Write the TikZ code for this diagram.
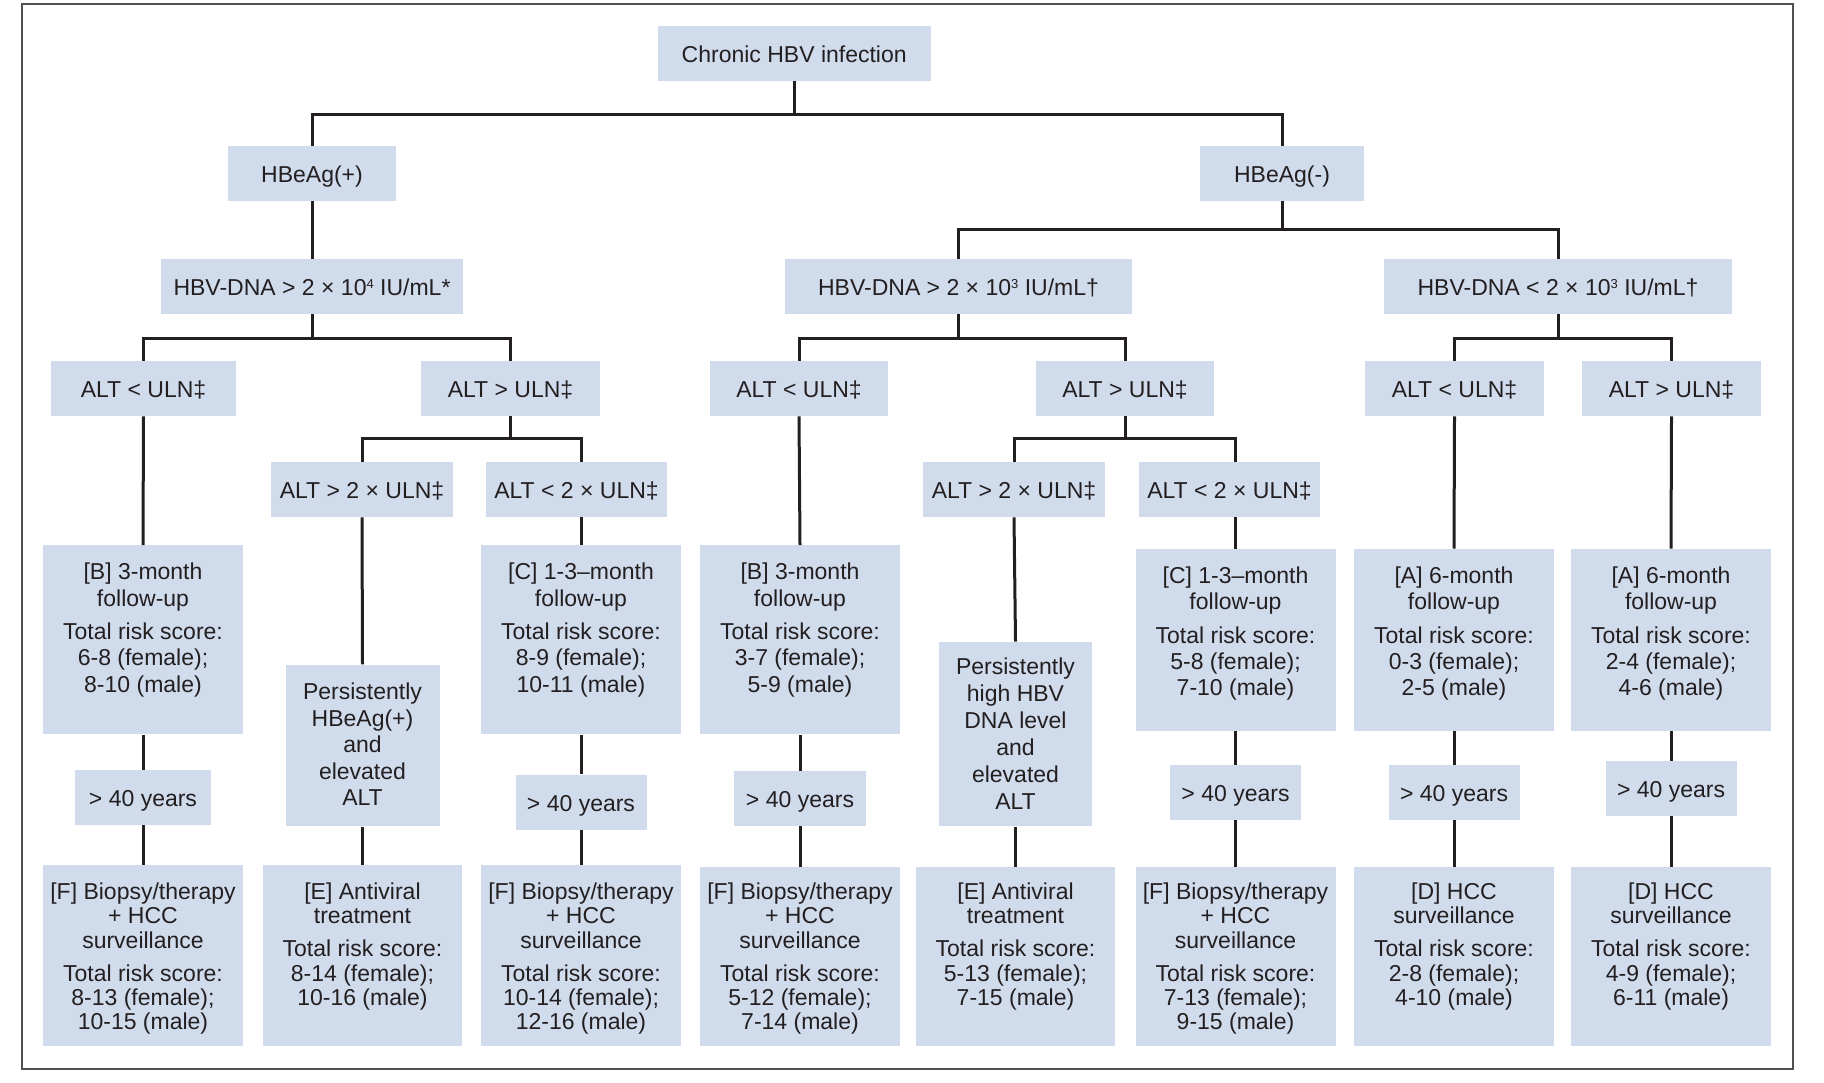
\documentclass[tikz,border=0pt]{standalone}
\usepackage{fontspec}
\setmainfont{Liberation Sans}
\usetikzlibrary{positioning}

\definecolor{boxblue}{RGB}{208,219,236}
\definecolor{inkgray}{RGB}{35,31,32}
\definecolor{framegray}{RGB}{80,80,80}

% width, height, first baseline, text
\newcommand{\boxtext}[4]{\begin{minipage}[t][#2][t]{#1}\centering\rule{0pt}{#3}#4\end{minipage}}
% small raised exponent
\newcommand{\expo}[1]{\raisebox{3.6pt}{\fontsize{6.5}{7}\selectfont #1}}

\tikzset{
  box/.style={fill=boxblue, inner sep=0pt, text=inkgray},
  single/.style={box, minimum height=27.5pt, text height=9pt, text depth=0pt, font=\fontsize{11.5}{13.15}\selectfont},
  upper/.style={box, anchor=north, font=\fontsize{11.5}{13.15}\selectfont},
  lower/.style={box, anchor=north, font=\fontsize{11.5}{12.1}\selectfont},
  persist/.style={box, anchor=north, font=\fontsize{11.5}{#1}\selectfont},
  link/.style={draw=inkgray, line width=1.5pt},
  frame/.style={draw=framegray, line width=1pt},
}

\begin{document}
\begin{tikzpicture}[x=0.5pt,y=-0.5pt]
\useasboundingbox (0,0) rectangle (1824,1082);
\draw[frame] (21.5,4) rectangle (1793,1069);

%%%%%%%%%%%%%%%%%Top%%%%%%%%%%%%%%
%Chronic
\node[single,minimum width=136.5pt,
] (chronic) at (794.2,53.4){Chronic HBV infection};

%HBeAg positive
\node[single,minimum width=84pt,
] (hbeagpos) at (312,173.5){HBeAg(+)};

%HBeAg negative
\node[single,minimum width=82pt,
] (hbeagneg) at (1282,173.5){HBeAg(-)};

%%%%%%%%%%%%%%%%%DNA level%%%%%%%%%%%%%%
\node[single,minimum width=151pt,
] (dnapos) at (312,286.5){HBV-DNA > 2 × 10\expo{4} IU/mL*};

\node[single,minimum width=173.5pt,
] (dnahigh) at (958.5,286.5){HBV-DNA > 2 × 10\expo{3} IU/mL†};

\node[single,minimum width=174pt,
] (dnalow) at (1558,286.5){HBV-DNA < 2 × 10\expo{3} IU/mL†};

%%%%%%%%%%%%%%%%%ALT vs ULN%%%%%%%%%%%%%%
\node[single,minimum width=92.5pt,
] (altlta) at (143.5,388.5){ALT < ULN‡};

\node[single,minimum width=89.5pt,
] (altgta) at (510.5,388.5){ALT > ULN‡};

\node[single,minimum width=89pt,
] (altltb) at (799,388.5){ALT < ULN‡};

\node[single,minimum width=89.25pt,
] (altgtb) at (1125,388.5){ALT > ULN‡};

\node[single,minimum width=89.5pt,
] (altltc) at (1454.5,388.5){ALT < ULN‡};

\node[single,minimum width=89.5pt,
] (altgtc) at (1671.5,388.5){ALT > ULN‡};

%%%%%%%%%%%%%%%%%ALT vs 2 ULN%%%%%%%%%%%%%%
\node[single,minimum width=90.75pt,
] (dblgta) at (362,489.5){ALT > 2 × ULN‡};

\node[single,minimum width=90.5pt,
] (dbllta) at (576.5,489.5){ALT < 2 × ULN‡};

\node[single,minimum width=90.75pt,
] (dblgtb) at (1014,489.5){ALT > 2 × ULN‡};

\node[single,minimum width=90.5pt,
] (dblltb) at (1229.5,489.5){ALT < 2 × ULN‡};

%%%%%%%%%%%%%%%%%Follow-up%%%%%%%%%%%%%%
\node[upper] (fub1) at (143,545){\boxtext{100pt}{94.5pt}{17.15pt}{[B] 3-month\\follow-up\\[3.65pt]Total risk score:\\6-8 (female);\\8-10 (male)}};

\node[persist=13.25pt] (perseag) at (362.5,664.3){\boxtext{77pt}{80.75pt}{17.5pt}{Persistently\\HBeAg(+)\\and\\elevated\\ALT}};

\node[upper] (fuc1) at (581,545){\boxtext{100pt}{94.5pt}{17.15pt}{[C] 1-3–month\\follow-up\\[3.65pt]Total risk score:\\8-9 (female);\\10-11 (male)}};

\node[upper] (fub2) at (800,545){\boxtext{100pt}{94.5pt}{17.15pt}{[B] 3-month\\follow-up\\[3.65pt]Total risk score:\\3-7 (female);\\5-9 (male)}};

\node[persist=13.55pt] (persdna) at (1015.5,641.5){\boxtext{76.5pt}{92.25pt}{16.15pt}{Persistently\\high HBV\\DNA level\\and\\elevated\\ALT}};

\node[upper] (fuc2) at (1235.5,548.5){\boxtext{100pt}{91pt}{17.15pt}{[C] 1-3–month\\follow-up\\[3.65pt]Total risk score:\\5-8 (female);\\7-10 (male)}};

\node[upper] (fua1) at (1454,548.5){\boxtext{100pt}{91pt}{17.15pt}{[A] 6-month\\follow-up\\[3.65pt]Total risk score:\\0-3 (female);\\2-5 (male)}};

\node[upper] (fua2) at (1671,548.5){\boxtext{100pt}{91pt}{17.15pt}{[A] 6-month\\follow-up\\[3.65pt]Total risk score:\\2-4 (female);\\4-6 (male)}};

%%%%%%%%%%%%%%%%%Age%%%%%%%%%%%%%%
\node[single,minimum width=68pt,
] (agea) at (143,797.5){> 40 years};

\node[single,minimum width=65.5pt,
] (ageb) at (581,802){> 40 years};

\node[single,minimum width=65.75pt,
] (agec) at (800,798.5){> 40 years};

\node[single,minimum width=65.75pt,
] (aged) at (1235.5,792.5){> 40 years};

\node[single,minimum width=65.5pt,
] (agee) at (1454,792.5){> 40 years};

\node[single,minimum width=65.5pt,
] (agef) at (1671,788.5){> 40 years};

%%%%%%%%%%%%%%%%%Management%%%%%%%%%%%%%%
\node[lower] (biopa) at (143,865){\boxtext{100pt}{90.5pt}{17.15pt}{[F] Biopsy/therapy\\+ HCC\\surveillance\\[4.4pt]Total risk score:\\8-13 (female);\\10-15 (male)}};

\node[lower] (antia) at (362.5,865){\boxtext{99.5pt}{90.5pt}{17.15pt}{[E] Antiviral\\treatment\\[4.4pt]Total risk score:\\8-14 (female);\\10-16 (male)}};

\node[lower] (biopb) at (581,865){\boxtext{100pt}{90.5pt}{17.15pt}{[F] Biopsy/therapy\\+ HCC\\surveillance\\[4.4pt]Total risk score:\\10-14 (female);\\12-16 (male)}};

\node[lower] (biopc) at (800,866.5){\boxtext{100pt}{89.75pt}{16.4pt}{[F] Biopsy/therapy\\+ HCC\\surveillance\\[4.4pt]Total risk score:\\5-12 (female);\\7-14 (male)}};

\node[lower] (antib) at (1015.5,866.5){\boxtext{99.5pt}{89.75pt}{16.4pt}{[E] Antiviral\\treatment\\[4.4pt]Total risk score:\\5-13 (female);\\7-15 (male)}};

\node[lower] (biopd) at (1235.5,866.5){\boxtext{100pt}{89.75pt}{16.4pt}{[F] Biopsy/therapy\\+ HCC\\surveillance\\[4.4pt]Total risk score:\\7-13 (female);\\9-15 (male)}};

\node[lower] (hcca) at (1454,866.5){\boxtext{100pt}{89.75pt}{16.4pt}{[D] HCC\\surveillance\\[4.4pt]Total risk score:\\2-8 (female);\\4-10 (male)}};

\node[lower] (hccb) at (1671,866.5){\boxtext{100pt}{89.75pt}{16.4pt}{[D] HCC\\surveillance\\[4.4pt]Total risk score:\\4-9 (female);\\6-11 (male)}};

%%%%%%%%%%%%%%%%%Junctions%%%%%%%%%%%%%%
\coordinate (jtop) at (794.2,114);
\coordinate (jneg) at (1282,229);
\coordinate (jdnapos) at (312,338);
\coordinate (jdnahigh) at (958.5,338);
\coordinate (jdnalow) at (1558,338);
\coordinate (jalta) at (510.5,438);
\coordinate (jaltb) at (1125,438);

%%%%%%%%%%%%%%%%%Links%%%%%%%%%%%%%%
\draw[-, link] (chronic.south) -- (jtop);
\draw[-, link] (hbeagpos.north) |- (jtop) -| (hbeagneg.north);
\draw[-, link] (hbeagpos.south) -- (dnapos.north);
\draw[-, link] (hbeagneg.south) -- (jneg);
\draw[-, link] (dnahigh.north) |- (jneg) -| (dnalow.north);

\draw[-, link] (dnapos.south) -- (jdnapos);
\draw[-, link] (altlta.north) |- (jdnapos) -| (altgta.north);
\draw[-, link] (dnahigh.south) -- (jdnahigh);
\draw[-, link] (altltb.north) |- (jdnahigh) -| (altgtb.north);
\draw[-, link] (dnalow.south) -- (jdnalow);
\draw[-, link] (altltc.north) |- (jdnalow) -| (altgtc.north);

\draw[-, link] (altgta.south) -- (jalta);
\draw[-, link] (dblgta.north) |- (jalta) -| (fuc1.north |- dbllta.north);
\draw[-, link] (altgtb.south) -- (jaltb);
\draw[-, link] (dblgtb.north) |- (jaltb) -| (fuc2.north |- dblltb.north);

%Column 1
\draw[-, link] (altlta.south) -- (fub1.north);
\draw[-, link] (fub1.south) -- (agea.north);
\draw[-, link] (agea.south) -- (biopa.north);
%Column 2
\draw[-, link] (dblgta.south) -- (perseag.north);
\draw[-, link] (perseag.south) -- (antia.north);
%Column 3
\draw[-, link] (fuc1.north |- dbllta.south) -- (fuc1.north);
\draw[-, link] (fuc1.south) -- (ageb.north);
\draw[-, link] (ageb.south) -- (biopb.north);
%Column 4
\draw[-, link] (altltb.south) -- (fub2.north);
\draw[-, link] (fub2.south) -- (agec.north);
\draw[-, link] (agec.south) -- (biopc.north);
%Column 5
\draw[-, link] (dblgtb.south) -- (persdna.north);
\draw[-, link] (persdna.south) -- (antib.north);
%Column 6
\draw[-, link] (fuc2.north |- dblltb.south) -- (fuc2.north);
\draw[-, link] (fuc2.south) -- (aged.north);
\draw[-, link] (aged.south) -- (biopd.north);
%Column 7
\draw[-, link] (altltc.south) -- (fua1.north);
\draw[-, link] (fua1.south) -- (agee.north);
\draw[-, link] (agee.south) -- (hcca.north);
%Column 8
\draw[-, link] (altgtc.south) -- (fua2.north);
\draw[-, link] (fua2.south) -- (agef.north);
\draw[-, link] (agef.south) -- (hccb.north);

\end{tikzpicture}
\end{document}
